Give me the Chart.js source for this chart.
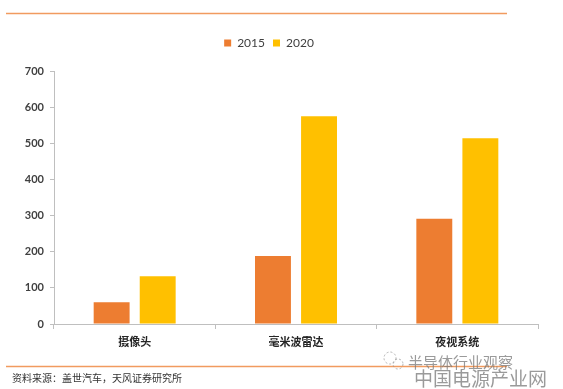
<!DOCTYPE html>
<html>
<head>
<meta charset="utf-8">
<script src="https://cdn.jsdelivr.net/npm/chart.js@4.4.0/dist/chart.umd.min.js"></script>
<style>
  html, body { margin: 0; padding: 0; background: #fff; }
  #wrap { width: 563px; height: 389px; }
</style>
</head>
<body>
<div id="wrap"><canvas id="myChart" width="563" height="389"></canvas></div>
<script>
const categories = ["摄像头", "毫米波雷达", "夜视系统"];
const seriesNames = ["2015", "2020"];
const values2015 = [60, 188, 291];
const values2020 = [132, 575, 514];
const seriesColors = ["#ED7D31", "#FFC000"];

const latin = 'Lato, "Noto Sans CJK SC", sans-serif';
const cjk = '"Noto Sans CJK SC", sans-serif';

// extra room between legend and plot
const legendGap = {
  id: "legendGap",
  afterInit(chart) {
    const lg = chart.legend;
    if (!lg) return;
    const fit = lg.fit;
    lg.fit = function () {
      fit.call(this);
      this.height += 12;
    };
  }
};

// frame lines, source note and watermark
const decor = {
  id: "decor",
  afterDraw(chart) {
    const c = chart.ctx;
    c.save();
    c.strokeStyle = "#F19B5F";
    c.lineWidth = 1.5;
    c.beginPath();
    c.moveTo(6, 13.5); c.lineTo(507, 13.5);
    c.moveTo(6, 366.5); c.lineTo(507, 366.5);
    c.stroke();

    c.fillStyle = "#333";
    c.font = "10px " + cjk;
    c.textBaseline = "middle";
    c.fillText("资料来源：盖世汽车，天风证券研究所", 12, 378);

    c.fillStyle = "rgba(120,120,120,0.75)";
    c.font = "15px " + cjk;
    c.fillText("半导体行业观察", 408, 362);
    c.font = "19px " + cjk;
    c.fillText("中国电源产业网", 414, 379);

    c.strokeStyle = "rgba(150,150,150,0.7)";
    c.lineWidth = 1;
    c.setLineDash([2, 2]);
    c.beginPath();
    c.arc(390, 358, 6, 0, Math.PI * 2);
    c.stroke();
    c.beginPath();
    c.arc(398, 364, 5, 0, Math.PI * 2);
    c.stroke();
    c.restore();
  }
};

Chart.defaults.font.family = latin;

new Chart(document.getElementById("myChart"), {
  type: "bar",
  data: {
    labels: categories,
    datasets: [
      { label: seriesNames[0], data: values2015, backgroundColor: seriesColors[0] },
      { label: seriesNames[1], data: values2020, backgroundColor: seriesColors[1] }
    ]
  },
  options: {
    responsive: false,
    animation: false,
    layout: { padding: { top: 29, left: 0, right: 25, bottom: 0 } },
    datasets: {
      bar: { categoryPercentage: 0.571, barPercentage: 0.78 }
    },
    plugins: {
      legend: {
        position: "top",
        labels: {
          boxWidth: 7,
          boxHeight: 7,
          padding: 8,
          color: "#404040",
          font: { size: 12, family: latin }
        }
      },
      tooltip: { enabled: false }
    },
    scales: {
      x: {
        afterFit: (scale) => { scale.height = 65; },
        grid: {
          drawOnChartArea: false,
          tickLength: 5,
          color: "#BFBFBF"
        },
        border: { color: "#BFBFBF" },
        ticks: {
          color: "#262626",
          padding: 6,
          font: { size: 11, family: cjk, weight: "bold" }
        }
      },
      y: {
        min: 0,
        max: 700,
        afterFit: (scale) => { scale.width = 54; },
        grid: {
          drawOnChartArea: false,
          tickLength: 4,
          color: "#BFBFBF"
        },
        border: { color: "#BFBFBF" },
        ticks: {
          stepSize: 100,
          color: "#404040",
          padding: 6,
          font: { size: 11, family: latin, weight: "bold" }
        }
      }
    }
  },
  plugins: [legendGap, decor]
});
</script>
</body>
</html>
